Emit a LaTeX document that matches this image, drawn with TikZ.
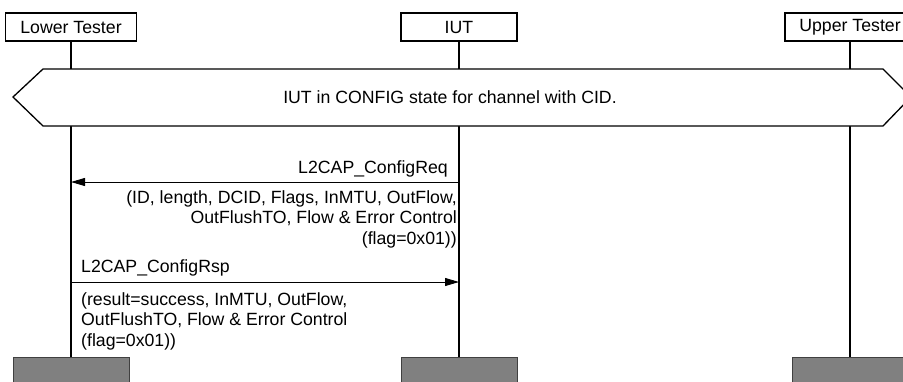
\documentclass[tikz,border=0pt]{standalone}
\usepackage{fontspec}
\setmainfont{Liberation Sans}
\usetikzlibrary{arrows.meta}
\begin{document}
\begin{tikzpicture}[x=1pt,y=-1pt,
  every node/.style={font=\fontsize{17.7}{20.7}\selectfont, inner sep=0pt},
  head/.style={draw, line width=1.3pt, fill=white, minimum height=28pt},
  life/.style={line width=1.5pt},
  foot/.style={draw=black!75, fill=black!50, line width=1pt, minimum height=40pt, anchor=north},
  state/.style={draw, line width=1.3pt, fill=white, line join=miter},
  msg/.style={line width=0.9pt, -{Triangle[length=14pt,width=8pt]}},
  ]
\useasboundingbox (0,0) rectangle (903,381);
\clip (0,0) rectangle (903,381);

% headers
\node[head, minimum width=131pt] (lt) at (71,27) {Lower Tester};
\node[head, minimum width=116pt] (iut) at (459,27) {IUT};
\node[head, minimum width=130pt] (ut) at (850,27) {Upper Tester};

% feet
\node[foot, minimum width=116pt] (ltf) at (71,357) {};
\node[foot, minimum width=116pt] (iutf) at (459,357) {};
\node[foot, minimum width=116pt] (utf) at (850,357) {};

% lifelines
\draw[life] (lt.south) -- (ltf.north);
\draw[life] (iut.south) -- (iutf.north);
\draw[life] (ut.south) -- (utf.north);

% condition
\draw[state] (13,97) -- (43,69) -- (883,69) -- (911,97) -- (883,126) -- (43,126) -- cycle;
\node[anchor=base] (cond) at (450,103) {IUT in CONFIG state for channel with CID.};

% message rows
\coordinate (y1) at (0,182);
\coordinate (y2) at (0,282);

\draw[msg] (iut.south |- y1) -- (lt.south |- y1);
\node[anchor=base east] (reqlbl) at (448,173) {L2CAP\_ConfigReq};
\node[anchor=north east, align=right] (reqpar) at (457,190)
  {(ID, length, DCID, Flags, InMTU, OutFlow,\\OutFlushTO, Flow \& Error Control\\(flag=0x01))};

\draw[msg] (lt.south |- y2) -- (iut.south |- y2);
\node[anchor=base west] (rsplbl) at (81,272) {L2CAP\_ConfigRsp};
\node[anchor=north west, align=left] (rsppar) at (81,292)
  {(result=success, InMTU, OutFlow,\\OutFlushTO, Flow \& Error Control\\(flag=0x01))};
\end{tikzpicture}
\end{document}
